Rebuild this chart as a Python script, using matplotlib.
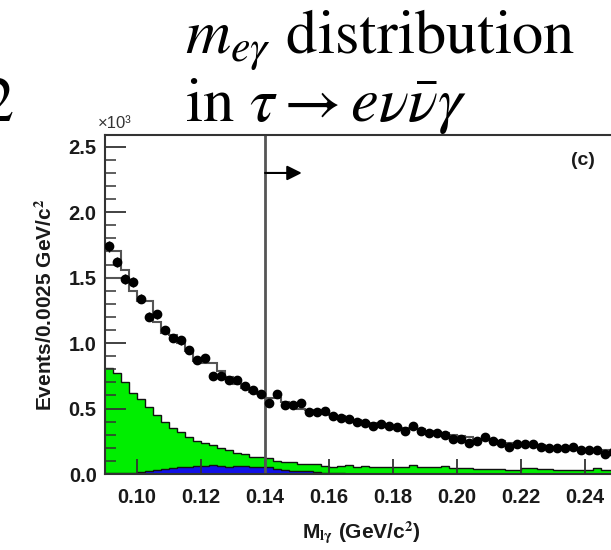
import numpy as np
import matplotlib
matplotlib.use("Agg")
import matplotlib.pyplot as plt
from matplotlib.ticker import MultipleLocator, FormatStrFormatter

plt.rcParams['font.family'] = ['Liberation Sans', 'DejaVu Sans']
plt.rcParams['mathtext.fontset'] = 'stix'

# binning: 0.0025 GeV/c^2 bins from 0.09 to 0.25
edges = np.linspace(0.09, 0.25, 65)
centers = 0.5 * (edges[:-1] + edges[1:])

# events per bin, in units of 10^3
data = np.array([
    1.74, 1.62, 1.49, 1.47, 1.34, 1.20, 1.22, 1.10, 1.04, 1.02,
    0.95, 0.87, 0.89, 0.75, 0.75, 0.72, 0.72, 0.67, 0.64, 0.61,
    0.54, 0.61, 0.53, 0.53, 0.54, 0.47, 0.47, 0.48, 0.44, 0.43,
    0.42, 0.40, 0.39, 0.37, 0.38, 0.37, 0.36, 0.33, 0.37, 0.33,
    0.31, 0.31, 0.30, 0.27, 0.27, 0.24, 0.25, 0.28, 0.25, 0.24,
    0.21, 0.23, 0.23, 0.23, 0.21, 0.20, 0.20, 0.20, 0.21, 0.18,
    0.18, 0.18, 0.15, 0.17])

mc_total = np.array([
    1.70, 1.70, 1.56, 1.40, 1.32, 1.32, 1.16, 1.08, 1.06, 1.00,
    0.94, 0.86, 0.85, 0.85, 0.79, 0.74, 0.69, 0.66, 0.63, 0.61,
    0.58, 0.58, 0.55, 0.53, 0.50, 0.49, 0.48, 0.46, 0.45, 0.44,
    0.43, 0.41, 0.40, 0.39, 0.38, 0.37, 0.36, 0.35, 0.35, 0.34,
    0.33, 0.32, 0.31, 0.30, 0.29, 0.28, 0.27, 0.27, 0.26, 0.25,
    0.24, 0.24, 0.23, 0.23, 0.22, 0.21, 0.21, 0.20, 0.20, 0.19,
    0.19, 0.18, 0.18, 0.17])

# second MC curve, only its first bins fall inside the range
mc_alt = np.array([1.50, 1.50])

bkg_green = np.array([
    0.81, 0.77, 0.70, 0.62, 0.57, 0.51, 0.45, 0.40, 0.35, 0.32,
    0.285, 0.25, 0.24, 0.22, 0.20, 0.18, 0.16, 0.15, 0.13, 0.13,
    0.12, 0.10, 0.09, 0.095, 0.08, 0.08, 0.075, 0.06, 0.055, 0.06,
    0.065, 0.055, 0.062, 0.05, 0.055, 0.05, 0.055, 0.05, 0.065, 0.05,
    0.055, 0.055, 0.06, 0.045, 0.045, 0.045, 0.04, 0.04, 0.035, 0.035,
    0.03, 0.03, 0.045, 0.045, 0.035, 0.035, 0.03, 0.03, 0.03, 0.03,
    0.03, 0.045, 0.03, 0.03])

bkg_blue = np.array([
    0.005, 0.005, 0.008, 0.010, 0.015, 0.025, 0.030, 0.035, 0.045, 0.050,
    0.055, 0.060, 0.060, 0.070, 0.060, 0.055, 0.060, 0.060, 0.055, 0.055,
    0.055, 0.035, 0.030, 0.025, 0.025, 0.020, 0.015, 0.008, 0.005, 0.004,
    0.003, 0.003, 0.002, 0.002, 0.002, 0.002, 0.001, 0.001, 0.001, 0.001,
    0.001, 0.001, 0.001, 0.001, 0.001, 0.001, 0.001, 0.001, 0.001, 0.001,
    0.001, 0.001, 0.001, 0.001, 0.001, 0.001, 0.001, 0.001, 0.001, 0.001,
    0.001, 0.001, 0.001, 0.001])

cut_value = 0.14

fig = plt.figure(figsize=(6.11, 5.5), dpi=100)
ax = fig.add_axes([105 / 611, 76 / 550, 512 / 611, 339 / 550])

ax.stairs(bkg_green, edges, fill=True, facecolor='#00ee00', edgecolor='none', zorder=1)
ax.stairs(bkg_green, edges, baseline=None, color='#111111', lw=1.0, zorder=1.1)
ax.stairs(bkg_blue, edges, fill=True, facecolor='#1010e8', edgecolor='none', zorder=1.2)
ax.stairs(bkg_blue, edges, baseline=None, color='#111111', lw=1.0, zorder=1.3)
ax.stairs(mc_total, edges, baseline=None, color='#555555', lw=1.5, zorder=2)
ax.stairs(mc_alt, edges[:3], baseline=None, color='#555555', lw=1.5, zorder=2)

yerr = np.sqrt(data * 1000) / 1000
ax.errorbar(centers, data, yerr=yerr, fmt='o', color='black', ms=6.0,
            elinewidth=1.0, capsize=0, zorder=3)

# selection cut and direction arrow
ax.axvline(cut_value, color='#555555', lw=2, zorder=2.5)
ax.annotate('', xy=(cut_value + 0.0115, 2.30), xytext=(cut_value, 2.30),
            arrowprops=dict(arrowstyle='-|>', color='black', lw=1.5,
                            mutation_scale=22, shrinkA=0, shrinkB=0))

ax.set_xlim(0.09, 0.25)
ax.set_ylim(0, 2.59)

ax.xaxis.set_major_locator(MultipleLocator(0.02))
ax.yaxis.set_major_locator(MultipleLocator(0.5))
ax.yaxis.set_minor_locator(MultipleLocator(0.1))
ax.xaxis.set_major_formatter(FormatStrFormatter('%.2f'))
ax.yaxis.set_major_formatter(FormatStrFormatter('%.1f'))

ax.tick_params(axis='y', which='major', direction='in', length=15, width=1.3,
               color='#333333', pad=6)
ax.tick_params(axis='y', which='minor', direction='in', length=8, width=1.1,
               color='#333333')
ax.tick_params(axis='x', which='major', direction='in', length=11, width=1.3,
               color='#333333', pad=10)
for lab in ax.get_xticklabels() + ax.get_yticklabels():
    lab.set_fontsize(14.5)
    lab.set_fontweight('bold')
    lab.set_color('#1a1a1a')

for side in ['left', 'top', 'right', 'bottom']:
    ax.spines[side].set_linewidth(1.5)
    ax.spines[side].set_color('#333333')

ax.set_xlabel(r'M$_{\mathbf{l\gamma}}$ (GeV/c$^\mathbf{2}$)', fontsize=15,
              fontweight='bold', labelpad=9, color='#1a1a1a')
ax.set_ylabel(r'Events/0.0025 GeV/c$^\mathbf{2}$', fontsize=15,
              fontweight='bold', labelpad=9, color='#1a1a1a')

ax.text(0.933, 0.925, '(c)', transform=ax.transAxes, fontsize=14,
        fontweight='bold', ha='center', va='center', color='#1a1a1a')
fig.text(98 / 611, 1 - 124 / 550, '×10³', fontsize=12, ha='left',
         va='center', color='#333333')

# slide title above the plot
fig.text(185 / 611, 1 - 54 / 550, r'$m_{e\gamma}$ distribution', fontsize=45,
         family='STIXGeneral', ha='left', va='baseline')
fig.text(185 / 611, 1 - 121 / 550, r'in $\tau \rightarrow e\nu\bar{\nu}\gamma$',
         fontsize=45, family='STIXGeneral', ha='left', va='baseline')
fig.text(13 / 611, 1 - 121 / 550, '2', fontsize=45, family='STIXGeneral',
         ha='right', va='baseline')

fig.savefig('out.png', dpi=100)
